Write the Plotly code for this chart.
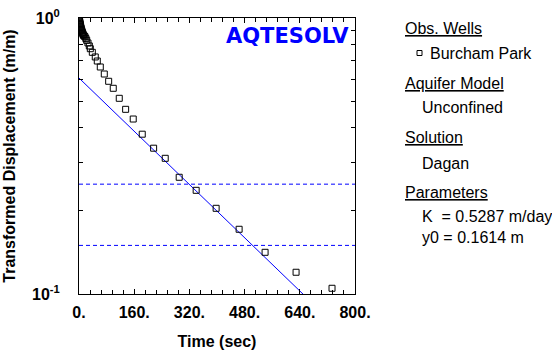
import plotly.graph_objects as go

# Observed recovery data, Burcham Park well
time_sec = [0.5, 1, 1.5, 2, 2.5, 3, 3.5, 4, 5, 6, 7, 8, 9, 10, 11, 12, 13.5, 15,
            17.4, 20, 22.3, 26, 29.9, 32.8, 38.6, 47.2, 53.0, 61.7, 73.3, 86.0,
            99.3, 116.7, 135.2, 157.2, 183.3, 216.3, 249.9, 290.4, 339.6, 397.5,
            464.1, 539.4, 629.2, 733.4]
disp = [0.995, 0.985, 0.978, 0.970, 0.962, 0.955, 0.948, 0.941, 0.930, 0.920,
        0.910, 0.900, 0.892, 0.885, 0.878, 0.871, 0.865, 0.860, 0.855, 0.842,
        0.830, 0.812, 0.792, 0.774, 0.751, 0.7225, 0.6985, 0.6645, 0.6267,
        0.5898, 0.5563, 0.5117, 0.4668, 0.4305, 0.3793, 0.3375, 0.3102, 0.2648,
        0.2375, 0.2044, 0.1716, 0.1416, 0.1199, 0.1049]

# Dagan solution (straight line on semi-log axes)
fit_time = [0, 680]
fit_disp = [0.606, 0.0918]

# Recommended head range for line fitting
guide_levels = [0.25, 0.15]
time_span = [0, 800]

x_tickvals = [0, 160, 320, 480, 640, 800]
x_ticktext = ["0.", "160.", "320.", "480.", "640.", "800."]
y_tickvals = [0.1, 1]
y_ticktext = ["10<sup>-1</sup>", "10<sup>0</sup>"]
y_minor = [0.2, 0.3, 0.4, 0.5, 0.6, 0.7, 0.8, 0.9]

legend_lines = [
    ("<u>Obs. Wells</u>", 403, 28),
    ("Burcham Park", 428, 53),
    ("<u>Aquifer Model</u>", 403, 83),
    ("Unconfined", 420, 107),
    ("<u>Solution</u>", 403, 137),
    ("Dagan", 420, 163),
    ("<u>Parameters</u>", 403, 192),
    ("K  = 0.5287 m/day", 420, 216),
    ("y0 = 0.1614 m", 420, 237),
]

FONT = "Liberation Sans, Arial, sans-serif"
BLUE = "#0000FF"

fig = go.Figure()
for lvl in guide_levels:
    fig.add_trace(go.Scatter(
        x=time_span, y=[lvl, lvl], mode="lines",
        line=dict(color=BLUE, width=1, dash="4px,3px"),
        hoverinfo="skip", showlegend=False))
fig.add_trace(go.Scatter(
    x=fit_time, y=fit_disp, mode="lines",
    line=dict(color=BLUE, width=1), hoverinfo="skip", showlegend=False))
fig.add_trace(go.Scatter(
    x=time_sec, y=disp, mode="markers", name="Burcham Park",
    marker=dict(symbol="square-open", size=6, color="black", line=dict(width=1)),
    showlegend=False))

# plot area in pixels: left 79, top 18, width 276, height 276
L, T, W, H = 79, 18, 276, 276


def px(xp):
    return (xp - L) / W


def py(yp):
    return (T + H - yp) / H


for text, xp, yp in legend_lines:
    fig.add_annotation(text=text, xref="paper", yref="paper", x=px(xp), y=py(yp),
                       xanchor="left", yanchor="middle", showarrow=False,
                       font=dict(family=FONT, size=16, color="black"))

# legend marker square for the observation well
fig.add_shape(type="rect", xref="paper", yref="paper",
              x0=px(417), x1=px(422), y0=py(55.5), y1=py(50.5),
              line=dict(color="black", width=1))

fig.add_annotation(text="<b>AQTESOLV</b>", xref="paper", yref="paper",
                   x=px(351), y=py(36), xanchor="right", yanchor="middle",
                   showarrow=False,
                   font=dict(family="DejaVu Sans", size=21, color=BLUE))

fig.update_xaxes(
    range=[0, 800], tickmode="array", tickvals=x_tickvals, ticktext=x_ticktext,
    ticks="inside", ticklen=5, tickcolor="black", showline=True, linecolor="black",
    linewidth=1, mirror="allticks", showgrid=False, zeroline=False,
    automargin=False, ticklabelstandoff=4,
    tickfont=dict(family=FONT, size=16, color="black", weight="bold"),
    minor=dict(dtick=32, tick0=0, ticks="inside", ticklen=4, tickcolor="black",
               showgrid=False),
    title=dict(text="Time (sec)", standoff=16,
               font=dict(family=FONT, size=16, color="black", weight="bold")),
)
fig.update_yaxes(
    type="log", range=[-1, 0], tickmode="array", tickvals=y_tickvals,
    ticktext=y_ticktext, ticks="inside", ticklen=5, tickcolor="black",
    showline=True, linecolor="black", linewidth=1, mirror="allticks",
    showgrid=False, zeroline=False, automargin=False, ticklabelstandoff=15,
    tickfont=dict(family=FONT, size=16, color="black", weight="bold"),
    minor=dict(tickvals=y_minor, ticks="inside", ticklen=4, tickcolor="black",
               showgrid=False),
    title=dict(text="Transformed Displacement (m/m)", standoff=12,
               font=dict(family=FONT, size=16, color="black", weight="bold")),
)

fig.update_layout(
    width=552, height=350, autosize=False,
    margin=dict(l=L, r=552 - L - W, t=T, b=350 - T - H),
    paper_bgcolor="white", plot_bgcolor="white",
)

fig.write_html("out.html")
